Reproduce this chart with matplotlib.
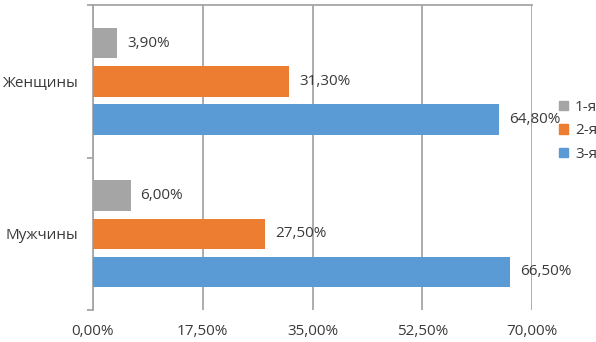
import matplotlib
matplotlib.use("Agg")
import matplotlib.pyplot as plt
from matplotlib.patches import Patch
from matplotlib.ticker import FuncFormatter, FixedLocator

plt.rcParams['font.family'] = ['Open Sans', 'DejaVu Sans']

# data
categories = ["Мужчины", "Женщины"]
series_names = ["1-я", "2-я", "3-я"]
val_1 = [6.0, 3.9]
val_2 = [27.5, 31.3]
val_3 = [66.5, 64.8]
x_ticks = [0, 17.5, 35, 52.5, 70]

colors = ["#A5A5A5", "#ED7D31", "#5B9BD5"]
text_col = "#3A3A3A"
grid_col = "#A6A6A6"

def pct(v):
    return f"{v:.2f}%".replace(".", ",")

fig = plt.figure(figsize=(5.96, 3.42), dpi=100)
ax = fig.add_axes([93 / 596, 1 - 310 / 342, 439 / 596, 305 / 342])

offsets = [0.25, 0.0, -0.25]
ys = list(range(len(categories)))
for vals, off, col in zip([val_1, val_2, val_3], offsets, colors):
    pos = [y + off for y in ys]
    ax.barh(pos, vals, height=0.2, color=col, zorder=3)
    for p, v in zip(pos, vals):
        ax.annotate(pct(v), (v, p), xytext=(7, 0), textcoords="offset points",
                    va="center", ha="left", fontsize=11, color=text_col, zorder=4)

ax.set_xlim(0, 70)
ax.set_ylim(-0.5, 1.5)
ax.xaxis.set_major_locator(FixedLocator(x_ticks))
ax.xaxis.set_major_formatter(FuncFormatter(lambda v, _: pct(v)))
ax.grid(axis="x", color=grid_col, linewidth=1.3, zorder=0)

ax.set_yticks(ys)
ax.set_yticklabels(categories)
ax.yaxis.set_minor_locator(FixedLocator([-0.5, 0.5, 1.5]))
ax.tick_params(axis="y", which="major", length=0, pad=11, labelsize=11, labelcolor=text_col)
ax.tick_params(axis="y", which="minor", length=4, width=1.3, color=grid_col)
ax.tick_params(axis="x", length=0, pad=10, labelsize=11, labelcolor=text_col)

for s in ["right", "bottom"]:
    ax.spines[s].set_visible(False)
for s in ["left", "top"]:
    ax.spines[s].set_color(grid_col)
    ax.spines[s].set_linewidth(1.3)

handles = [Patch(color=c) for c in colors]
fig.legend(handles, series_names, loc="center left",
           bbox_to_anchor=(553 / 596, 1 - 131 / 342), frameon=False,
           fontsize=11, handlelength=0.55, handleheight=0.55, handletextpad=0.5,
           labelspacing=0.55, labelcolor=text_col, borderaxespad=0)

fig.savefig("out.png", dpi=100)
